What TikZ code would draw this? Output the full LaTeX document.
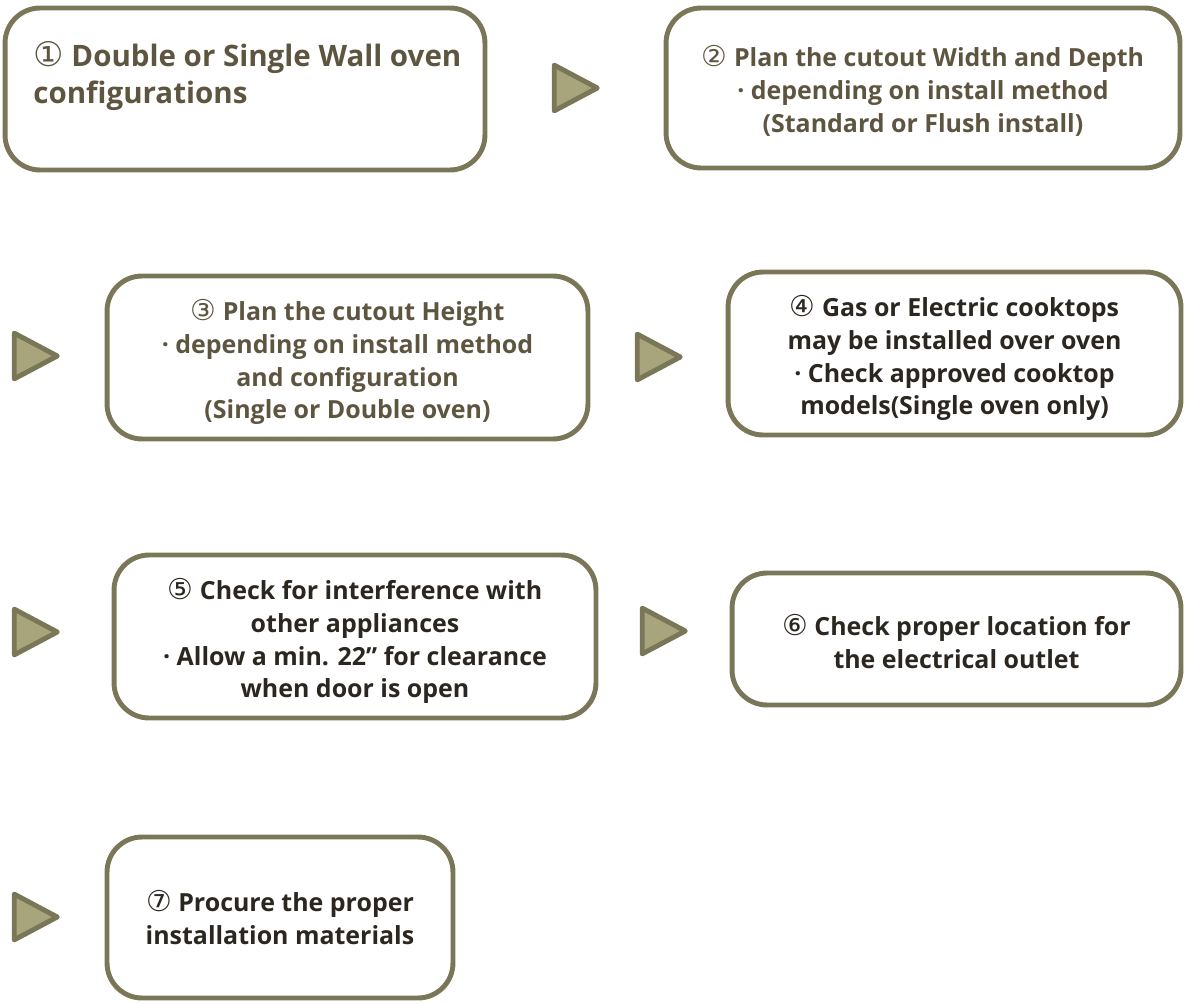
\documentclass[tikz,border=0pt]{standalone}
\usepackage{fontspec}
\setmainfont{Open Sans}
\newfontfamily\circfont{DejaVu Sans}
\usetikzlibrary{shapes.geometric}
\definecolor{edgeol}{HTML}{7A7658}
\definecolor{fillol}{HTML}{A8A47C}
\definecolor{textbr}{HTML}{5E5540}
\definecolor{textdk}{HTML}{2B2620}
\newcommand{\cnum}[2][1.23em]{\rule{0pt}{#1}{\circfont\mdseries\scalebox{1.15}{#2}}}
\tikzset{
  stepbox/.style={draw=edgeol, line width=2.8pt, rounded corners=0.7cm,
    align=center, font=\bfseries\fontsize{14.2}{18.6}\selectfont, inner sep=0pt},
  marker/.style={isosceles triangle, isosceles triangle apex angle=56,
    draw=edgeol, fill=fillol, line width=2.8pt, line join=round,
    minimum height=0.86cm, inner sep=0pt},
}
\begin{document}
\begin{tikzpicture}[x=0.02cm,y=-0.02cm]
\useasboundingbox (0,0) rectangle (1185,1003);
% boxes
\node[stepbox, minimum width=9.6cm, minimum height=3.24cm] (b1) at (245,89) {};
\node[anchor=west, align=left, text=textbr, inner sep=0pt,
  font=\bfseries\fontsize{16.8}{21}\selectfont] (b1text) at (33,70)
  {\cnum{①} Double or Single Wall oven\\configurations};
\node[stepbox, text=textbr, minimum width=10.28cm, minimum height=3.2cm] (b2) at (923,88)
  {\cnum[1.07em]{②} Plan the cutout Width and Depth\\· depending on install method\\(Standard or Flush install)};
\node[stepbox, text=textbr, minimum width=9.62cm, minimum height=3.26cm] (b3) at (347.5,357.5)
  {\cnum{③} Plan the cutout Height\\· depending on install method\\and configuration\\(Single or Double oven)};
\node[stepbox, text=textdk, minimum width=9.06cm, minimum height=3.26cm] (b4) at (954.5,353.5)
  {\cnum{④} Gas or Electric cooktops\\may be installed over oven\\· Check approved cooktop\\models(Single oven only)};
\node[stepbox, text=textdk, minimum width=9.64cm, minimum height=3.26cm] (b5) at (355,636.5)
  {\cnum{⑤} Check for interference with\\other appliances\\· Allow a min. 22” for clearance\\when door is open};
\node[stepbox, text=textdk, minimum width=8.98cm, minimum height=2.64cm] (b6) at (956.5,639)
  {\cnum[1.03em]{⑥} Check proper location for\\the electrical outlet};
\node[stepbox, text=textdk, minimum width=6.92cm, minimum height=3.22cm] (b7) at (280,917.5)
  {\cnum[0pt]{⑦} Procure the proper\\installation materials};
% arrow markers
\node[marker] (t1) at (568,88) {};
\node[marker] (t2) at (28,356) {};
\node[marker] (t3) at (651,357) {};
\node[marker] (t4) at (28,632) {};
\node[marker] (t5) at (656,631) {};
\node[marker] (t6) at (28,917) {};
\end{tikzpicture}
\end{document}
